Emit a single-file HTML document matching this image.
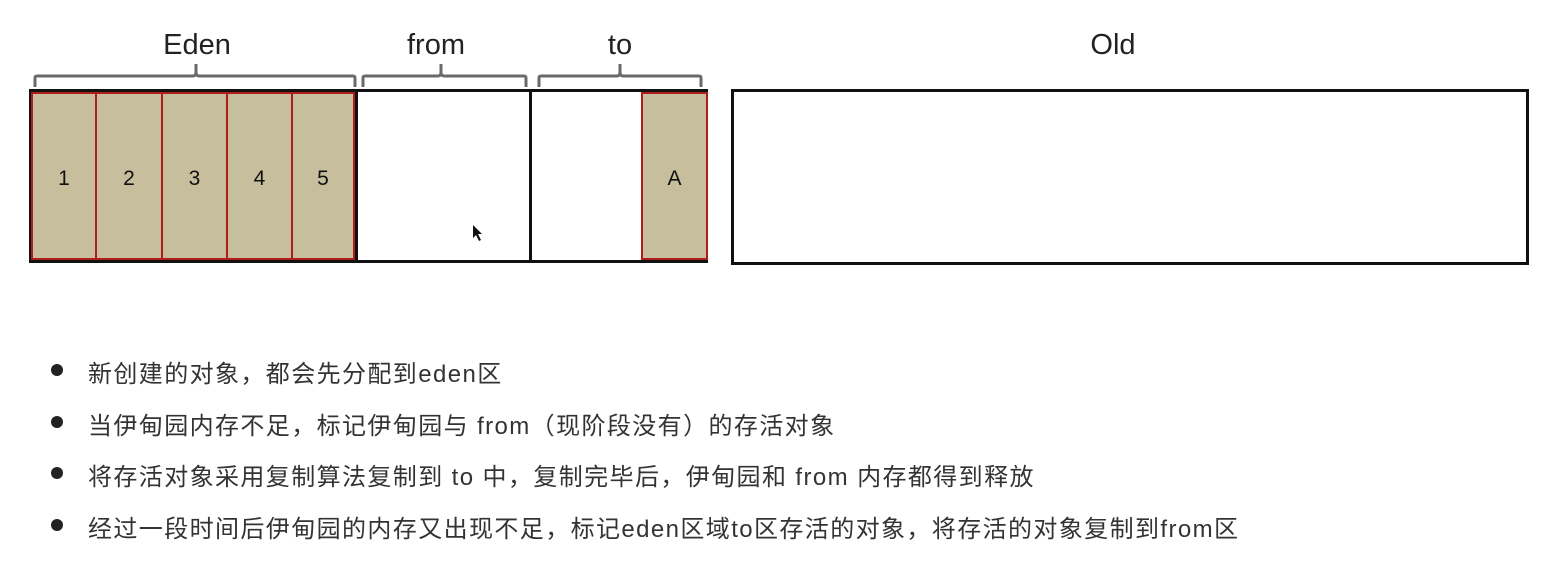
<!DOCTYPE html>
<html><head><meta charset="utf-8"><style>
body{margin:0;width:1546px;height:581px;background:#fff;position:relative;overflow:hidden;font-family:"Liberation Sans","Noto Sans CJK SC",sans-serif}
.a{position:absolute}
.lbl{position:absolute;font-size:29px;color:#222;transform:translateX(-50%);top:29px}
.cell{position:absolute;top:92px;height:168px;background:#c6be9c;border:2px solid #b01c1c;box-sizing:border-box;font-size:21px;color:#111;display:flex;align-items:center;justify-content:center;padding-top:5px}
.li{position:absolute;left:88px;font-size:24px;letter-spacing:1.4px;color:#333;white-space:nowrap}
.dot{position:absolute;left:51px;width:12px;height:12px;border-radius:50%;background:#222}
</style></head><body>
<div class="lbl" style="left:197px">Eden</div>
<div class="lbl" style="left:436px">from</div>
<div class="lbl" style="left:620px">to</div>
<div class="lbl" style="left:1113px">Old</div>
<svg class="a" style="left:0;top:0" width="1546" height="120">
<g fill="none" stroke="#6a6a6a" stroke-width="3">
<path d="M35 87 V78 Q35 76 37 76 H193 Q196 76 196 72 V64 M196 72 Q196 76 199 76 H353 Q355 76 355 78 V87"/>
<path d="M363 87 V78 Q363 76 365 76 H438 Q441 76 441 72 V64 M441 72 Q441 76 444 76 H524 Q526 76 526 78 V87"/>
<path d="M539 87 V78 Q539 76 541 76 H617 Q620 76 620 72 V64 M620 72 Q620 76 623 76 H699 Q701 76 701 78 V87"/>
</g></svg>
<div class="a" style="left:29px;top:89px;width:679px;height:174px;border:3px solid #111;box-sizing:border-box"></div>
<div class="a" style="left:529px;top:89px;width:3px;height:174px;background:#111"></div>
<div class="a" style="left:355px;top:89px;width:3px;height:174px;background:#111"></div>
<div class="cell" style="left:31px;width:66px">1</div>
<div class="cell" style="left:95px;width:68px">2</div>
<div class="cell" style="left:161px;width:67px">3</div>
<div class="cell" style="left:226px;width:67px">4</div>
<div class="cell" style="left:291px;width:64px">5</div>
<div class="cell" style="left:641px;width:67px">A</div>
<div class="a" style="left:731px;top:89px;width:798px;height:176px;border:3px solid #111;box-sizing:border-box"></div>
<svg class="a" style="left:472px;top:224px" width="12" height="18"><path d="M1 1 L1 14 L4 11 L7 17 L9 16 L6 10 L10 10 Z" fill="#111"/></svg>
<div class="dot" style="top:364px"></div><div class="li" style="top:354px">新创建的对象，都会先分配到eden区</div>
<div class="dot" style="top:416px"></div><div class="li" style="top:406px">当伊甸园内存不足，标记伊甸园与 from（现阶段没有）的存活对象</div>
<div class="dot" style="top:467px"></div><div class="li" style="top:457px">将存活对象采用复制算法复制到 to 中，复制完毕后，伊甸园和 from 内存都得到释放</div>
<div class="dot" style="top:519px"></div><div class="li" style="top:509px">经过一段时间后伊甸园的内存又出现不足，标记eden区域to区存活的对象，将存活的对象复制到from区</div>
</body></html>
